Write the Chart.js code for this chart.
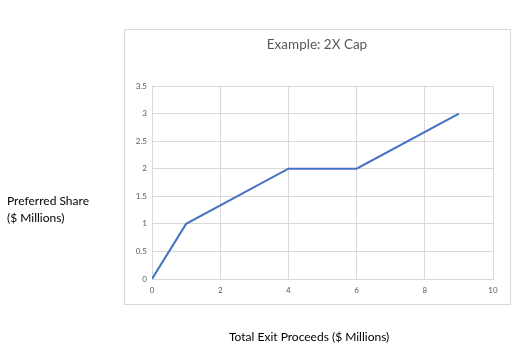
<!DOCTYPE html>
<html><head><meta charset="utf-8">
<script src="https://cdn.jsdelivr.net/npm/chart.js@4/dist/chart.umd.min.js"></script>
<style>
html,body{margin:0;padding:0;background:#fff;}
#wrap{position:relative;width:532px;height:357px;}
canvas{position:absolute;left:0;top:0;}
.lbl{position:absolute;font-family:Lato,"Open Sans",sans-serif;font-size:12px;color:#000;white-space:nowrap;}
#ttl{position:absolute;left:124px;width:386px;top:36px;text-align:center;font-family:Lato,sans-serif;font-size:13.5px;color:#595959;}
</style></head>
<body>
<div id="wrap">
<canvas id="c" width="532" height="357"></canvas>
<div id="ttl"></div>
<div class="lbl" style="left:7px;top:192px;line-height:17px;">Preferred Share<br>($ Millions)</div>
<div class="lbl" style="left:229px;top:329px;">Total Exit Proceeds ($ Millions)</div>
</div>
<script>
const titleText = "Example: 2X Cap";
const xValues = [0, 1, 4, 6, 9];
const yValues = [0, 1, 2, 2, 3];

document.getElementById('ttl').textContent = titleText;

const boxPlugin = {
  id: 'box',
  beforeDraw(chart) {
    const ctx = chart.ctx;
    ctx.save();
    ctx.fillStyle = '#fff';
    ctx.fillRect(0, 0, chart.width, chart.height);
    ctx.strokeStyle = '#d9d9d9';
    ctx.lineWidth = 1;
    ctx.strokeRect(124.5, 29.5, 386, 275);
    ctx.restore();
  }
};

new Chart(document.getElementById('c'), {
  type: 'scatter',
  data: {
    datasets: [{
      data: xValues.map((x, i) => ({x: x, y: yValues[i]})),
      showLine: true,
      borderColor: '#4472C4',
      backgroundColor: '#4472C4',
      borderWidth: 2,
      pointRadius: 0,
      tension: 0
    }]
  },
  options: {
    responsive: false,
    animation: false,
    layout: {padding: {left: 124, right: 39, top: 86, bottom: 53}},
    plugins: {
      legend: {display: false},
      tooltip: {enabled: false},
      title: {display: false}
    },
    scales: {
      x: {
        type: 'linear', min: 0, max: 10,
        afterFit(s) { s.height = 25; },
        ticks: {stepSize: 2, color: '#595959', font: {family: 'Lato', size: 8}, padding: 7, maxRotation: 0},
        grid: {color: '#d9d9d9', drawTicks: false},
        border: {color: '#d9d9d9'}
      },
      y: {
        min: 0, max: 3.5,
        afterFit(s) { s.width = 28; },
        ticks: {stepSize: 0.5, color: '#595959', font: {family: 'Lato', size: 8}, padding: 5,
          callback: v => String(v)},
        grid: {color: '#d9d9d9', drawTicks: false},
        border: {color: '#d9d9d9'}
      }
    }
  },
  plugins: [boxPlugin]
});
</script>
</body></html>
